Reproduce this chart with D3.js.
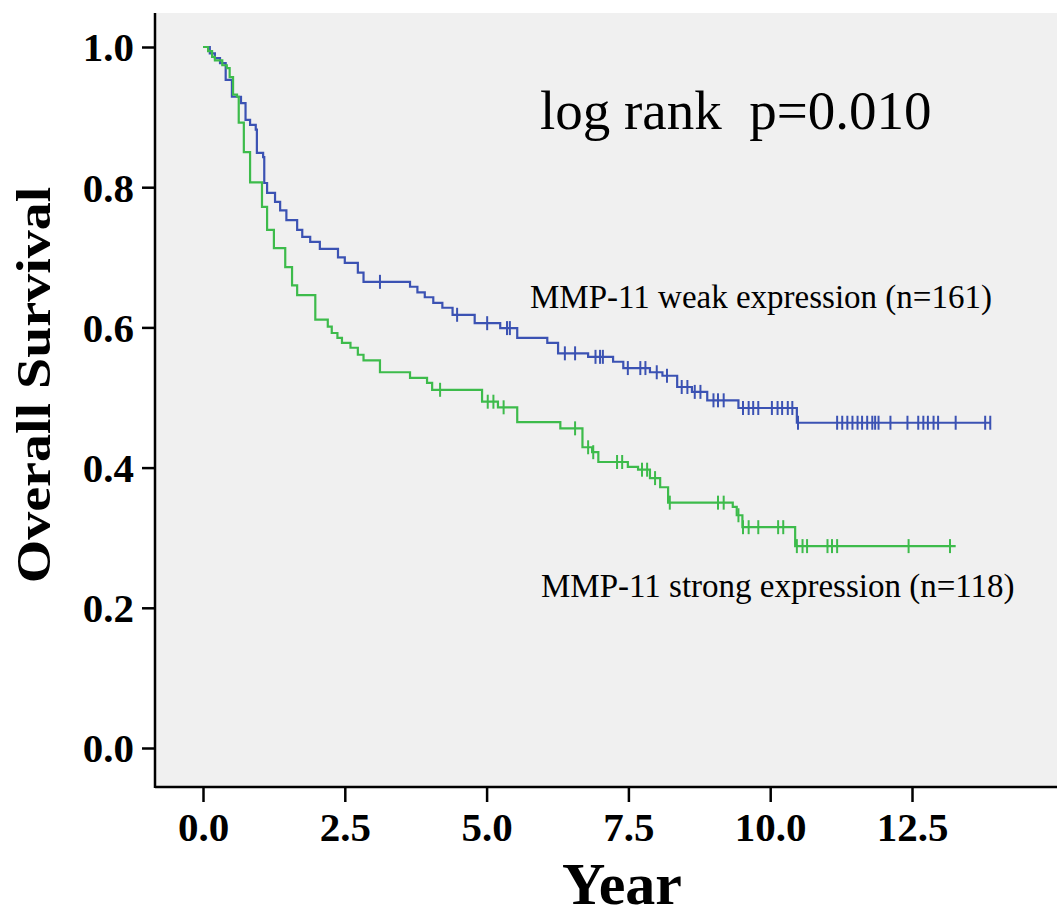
<!DOCTYPE html>
<html>
<head>
<meta charset="utf-8">
<script src="https://cdn.jsdelivr.net/npm/d3@7"></script>
<style>
  body { margin: 0; background: #fff; }
  svg { display: block; font-family: "Liberation Serif", "DejaVu Serif", serif; }
</style>
</head>
<body>
<svg id="chart" width="1057" height="917"></svg>
<script>
// tick values
const xTicks = [0, 2.5, 5, 7.5, 10, 12.5];
const yTicks = [0, 0.2, 0.4, 0.6, 0.8, 1.0];

// MMP-11 weak expression: [year, survival after the drop]
const weakSteps = [
  [0.12, 0.991], [0.21, 0.984], [0.30, 0.977], [0.40, 0.953], [0.51, 0.929],
  [0.67, 0.920], [0.75, 0.896], [0.83, 0.889], [0.93, 0.882], [0.95, 0.849],
  [1.06, 0.843], [1.08, 0.806], [1.13, 0.792], [1.27, 0.779], [1.36, 0.767],
  [1.47, 0.753], [1.66, 0.739], [1.75, 0.729], [1.89, 0.722], [2.06, 0.712],
  [2.38, 0.700], [2.50, 0.692], [2.73, 0.678], [2.83, 0.665], [3.65, 0.658],
  [3.78, 0.650], [3.91, 0.643], [4.06, 0.635], [4.22, 0.628], [4.40, 0.618],
  [4.79, 0.606], [5.24, 0.599], [5.54, 0.585], [6.07, 0.578], [6.26, 0.563],
  [6.79, 0.558], [7.23, 0.551], [7.41, 0.542], [7.88, 0.536], [8.10, 0.531],
  [8.36, 0.515], [8.62, 0.508], [8.89, 0.496], [9.44, 0.485], [10.47, 0.464]
];
const weakCensored = [
  3.12, 4.48, 5.01, 5.36, 5.41, 6.38, 6.56, 6.92, 7.00, 7.05, 7.49, 7.71, 7.80,
  8.00, 8.18, 8.44, 8.54, 8.67, 8.77, 9.00, 9.08, 9.18, 9.52, 9.62, 9.70, 9.79,
  10.03, 10.13, 10.21, 10.31, 10.39, 10.49, 11.18, 11.27, 11.36, 11.45, 11.54,
  11.62, 11.71, 11.80, 11.85, 11.91, 12.12, 12.42, 12.61, 12.70, 12.78, 12.88,
  12.96, 13.27, 13.79, 13.88
];
const weakEnd = 13.88;

// MMP-11 strong expression
const strongSteps = [
  [0.09, 0.994], [0.16, 0.986], [0.21, 0.981], [0.34, 0.974], [0.42, 0.970],
  [0.47, 0.957], [0.53, 0.932], [0.60, 0.929], [0.63, 0.892], [0.72, 0.850],
  [0.83, 0.807], [1.04, 0.772], [1.13, 0.739], [1.25, 0.713], [1.45, 0.686],
  [1.57, 0.660], [1.66, 0.646], [1.98, 0.611], [2.20, 0.601], [2.27, 0.592],
  [2.37, 0.585], [2.45, 0.578], [2.60, 0.571], [2.73, 0.561], [2.83, 0.553],
  [3.12, 0.536], [3.65, 0.528], [3.95, 0.521], [4.04, 0.511], [4.92, 0.494],
  [5.20, 0.486], [5.54, 0.465], [6.30, 0.456], [6.69, 0.429], [6.86, 0.422],
  [6.97, 0.408], [7.49, 0.401], [7.67, 0.397], [7.88, 0.385], [8.06, 0.372],
  [8.20, 0.350], [9.34, 0.344], [9.41, 0.332], [9.51, 0.315], [10.44, 0.288]
];
const strongCensored = [
  4.18, 5.02, 5.12, 5.30, 6.56, 6.79, 6.88, 7.30, 7.39, 7.74, 7.83, 7.97, 8.23,
  9.08, 9.18, 9.44, 9.52, 9.62, 9.79, 10.14, 10.23, 10.47, 10.57, 10.65, 11.01,
  11.09, 11.18, 12.44, 13.17
];
const strongEnd = 13.27;

const groups = [
  {name: "weak", steps: weakSteps, censored: weakCensored, end: weakEnd, color: "#3b52b3"},
  {name: "strong", steps: strongSteps, censored: strongCensored, end: strongEnd, color: "#3dbb4b"}
];

let svg = d3.select("#chart");
let plot = {left: 155, right: 1057, top: 13, bottom: 787};

let xScale = d3.scaleLinear().domain([0, 12.5]).range([203, 912]);
let yScale = d3.scaleLinear().domain([0, 1]).range([748, 47]);

// plot background
svg.append("rect")
  .attr("x", plot.left).attr("y", plot.top)
  .attr("width", plot.right - plot.left).attr("height", plot.bottom - plot.top)
  .attr("fill", "#f0f0f0");

// survival level in effect at time t
function levelAt(steps, t) {
  let s = 1;
  steps.forEach(d => { if (d[0] <= t) s = d[1]; });
  return s;
}

let line = d3.line()
  .x(d => xScale(d[0]))
  .y(d => yScale(d[1]))
  .curve(d3.curveStepAfter);

groups.forEach(g => {
  let pts = [[0, 1]].concat(g.steps);
  pts.push([g.end, g.steps[g.steps.length - 1][1]]);

  svg.append("path")
    .datum(pts)
    .attr("d", line)
    .attr("fill", "none")
    .attr("stroke", g.color)
    .attr("stroke-width", 2.2);

  svg.append("g").selectAll("line")
    .data(g.censored)
    .enter().append("line")
    .attr("x1", d => xScale(d)).attr("x2", d => xScale(d))
    .attr("y1", d => yScale(levelAt(g.steps, d)) - 7)
    .attr("y2", d => yScale(levelAt(g.steps, d)) + 7)
    .attr("stroke", g.color)
    .attr("stroke-width", 2);
});

// axes
let xAxis = d3.axisBottom(xScale).tickValues(xTicks)
  .tickSize(15).tickPadding(10).tickFormat(d3.format(".1f"));
let yAxis = d3.axisLeft(yScale).tickValues(yTicks)
  .tickSize(13).tickPadding(8).tickFormat(d3.format(".1f"));

let gx = svg.append("g")
  .attr("transform", "translate(0," + plot.bottom + ")")
  .call(xAxis);
let gy = svg.append("g")
  .attr("transform", "translate(" + plot.left + ",0)")
  .call(yAxis);

[gx, gy].forEach(g => {
  g.select(".domain").remove();
  g.selectAll(".tick line").attr("stroke", "#000").attr("stroke-width", 2.5);
  g.selectAll("text")
    .attr("fill", "#000")
    .style("font-family", "'Liberation Serif', serif")
    .style("font-size", "41px")
    .style("font-weight", "bold");
});
gy.selectAll("text").attr("dy", "0.34em");

svg.append("line")
  .attr("x1", plot.left).attr("x2", plot.left)
  .attr("y1", plot.top).attr("y2", plot.bottom + 1)
  .attr("stroke", "#000").attr("stroke-width", 2.5);
svg.append("line")
  .attr("x1", plot.left).attr("x2", plot.right)
  .attr("y1", plot.bottom).attr("y2", plot.bottom)
  .attr("stroke", "#000").attr("stroke-width", 2.5);

// axis titles
svg.append("text")
  .attr("x", 622).attr("y", 904)
  .attr("text-anchor", "middle")
  .style("font-size", "60px").style("font-weight", "bold")
  .text("Year");

svg.append("text")
  .attr("transform", "translate(50,385) rotate(-90) scale(1,0.85)")
  .attr("text-anchor", "middle")
  .style("font-size", "56px").style("font-weight", "bold")
  .text("Overall Survival");

// annotations
svg.append("text")
  .attr("x", 540).attr("y", 129)
  .style("font-size", "55px")
  .style("white-space", "pre")
  .text("log rank  p=0.010");

svg.append("text")
  .attr("x", 530).attr("y", 308)
  .style("font-size", "33px")
  .text("MMP-11 weak expression (n=161)");

svg.append("text")
  .attr("x", 541).attr("y", 597)
  .style("font-size", "33px")
  .text("MMP-11 strong expression (n=118)");
</script>
</body>
</html>
